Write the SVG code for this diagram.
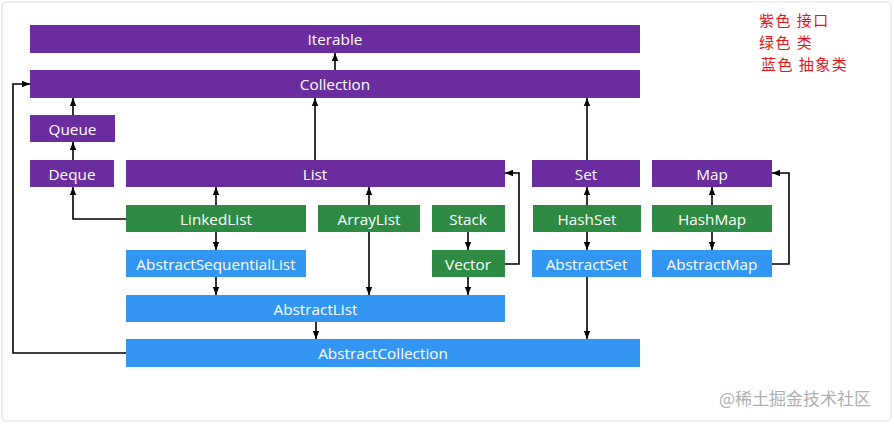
<svg xmlns="http://www.w3.org/2000/svg" width="894" height="424" viewBox="0 0 894 424">
<defs>
<marker id="ah" viewBox="0 0 8 8" refX="8" refY="4" markerWidth="8" markerHeight="8" markerUnits="userSpaceOnUse" orient="auto">
<path d="M0,0.8 L8,4 L0,7.2 Z" fill="#000"/>
</marker>
</defs>
<style>
.i{fill:#6b2c9f}
.c{fill:#2e8b43}
.a{fill:#3396f2}
.t{font-family:"Open Sans","Noto Sans","DejaVu Sans",sans-serif;font-size:15.3px;fill:#fff;text-anchor:middle;dominant-baseline:central}
.e{fill:none;stroke:#000;stroke-width:1.6;marker-end:url(#ah)}
.lg{font-family:"Noto Sans CJK SC",sans-serif;font-size:15px;letter-spacing:1.5px;fill:#e8141c}
.wm{font-family:"Noto Sans CJK SC",sans-serif;font-size:17px;fill:#b0b0b0}
</style>
<rect x="0" y="0" width="894" height="424" fill="#fff"/>
<rect x="2" y="2" width="889" height="419" rx="4" fill="#fff" stroke="#e2e2e2" stroke-width="1.2"/>
<g id="Iterable"><rect class="i" x="30" y="25" width="610" height="28"/><text class="t" x="335" y="39">Iterable</text></g>
<g id="Collection"><rect class="i" x="30" y="70" width="610" height="28"/><text class="t" x="335" y="84">Collection</text></g>
<g id="Queue"><rect class="i" x="30" y="115" width="85" height="27"/><text class="t" x="72.5" y="128.5">Queue</text></g>
<g id="Deque"><rect class="i" x="30" y="160" width="84" height="27"/><text class="t" x="72" y="173.5">Deque</text></g>
<g id="List"><rect class="i" x="126" y="160" width="379" height="27"/><text class="t" x="315" y="173.5">List</text></g>
<g id="Set"><rect class="i" x="532" y="160" width="108" height="27"/><text class="t" x="586" y="173.5">Set</text></g>
<g id="Map"><rect class="i" x="652" y="160" width="120" height="27"/><text class="t" x="712" y="173.5">Map</text></g>
<g id="LinkedList"><rect class="c" x="126" y="205" width="180" height="27"/><text class="t" x="216" y="218.5">LinkedList</text></g>
<g id="ArrayList"><rect class="c" x="318" y="205" width="102" height="27"/><text class="t" x="369" y="218.5">ArrayList</text></g>
<g id="Stack"><rect class="c" x="432" y="205" width="73" height="27"/><text class="t" x="468" y="218.5">Stack</text></g>
<g id="HashSet"><rect class="c" x="533" y="205" width="108" height="27"/><text class="t" x="587" y="218.5">HashSet</text></g>
<g id="HashMap"><rect class="c" x="652" y="205" width="120" height="27"/><text class="t" x="712" y="218.5">HashMap</text></g>
<g id="AbstractSequentialList"><rect class="a" x="126" y="250" width="180" height="27"/><text class="t" x="216" y="263.5">AbstractSequentialList</text></g>
<g id="Vector"><rect class="c" x="432" y="250" width="73" height="27"/><text class="t" x="468" y="263.5">Vector</text></g>
<g id="AbstractSet"><rect class="a" x="532" y="250" width="109" height="27"/><text class="t" x="586.5" y="263.5">AbstractSet</text></g>
<g id="AbstractMap"><rect class="a" x="652" y="250" width="120" height="27"/><text class="t" x="712" y="263.5">AbstractMap</text></g>
<g id="AbstractList"><rect class="a" x="126" y="295" width="379" height="27"/><text class="t" x="315.5" y="308.5">AbstractList</text></g>
<g id="AbstractCollection"><rect class="a" x="126" y="339" width="514" height="28"/><text class="t" x="383" y="353">AbstractCollection</text></g>
<g id="connectors">
<path class="e" d="M335,70 V53"/>
<path class="e" d="M73,115 V98"/>
<path class="e" d="M73,160 V142"/>
<path class="e" d="M315,160 V98"/>
<path class="e" d="M587,160 V98"/>
<path class="e" d="M126,219 H73 V187"/>
<path class="e" d="M216,205 V187"/>
<path class="e" d="M216,232 V250"/>
<path class="e" d="M216,277 V295"/>
<path class="e" d="M369,205 V187"/>
<path class="e" d="M369,232 V295"/>
<path class="e" d="M468,232 V250"/>
<path class="e" d="M468,277 V295"/>
<path class="e" d="M505,264 H519 V173 H505"/>
<path class="e" d="M587,205 V187"/>
<path class="e" d="M587,232 V250"/>
<path class="e" d="M587,277 V339"/>
<path class="e" d="M712,205 V187"/>
<path class="e" d="M712,232 V250"/>
<path class="e" d="M772,264 H789 V173 H772"/>
<path class="e" d="M316,322 V339"/>
<path class="e" d="M126,353 H13 V84 H30"/>
</g>
<g id="legend">
<text class="lg" x="759" y="26">紫色 接口</text>
<text class="lg" x="759" y="48">绿色 类</text>
<text class="lg" x="761" y="70">蓝色 抽象类</text>
</g>
<text class="wm" x="719" y="405">@稀土掘金技术社区</text>
</svg>
